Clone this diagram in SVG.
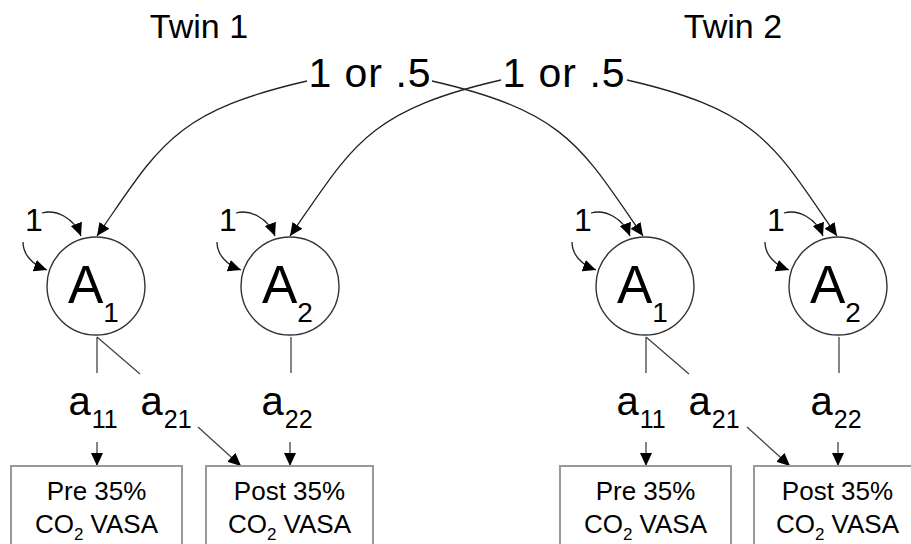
<svg xmlns="http://www.w3.org/2000/svg" width="911" height="544" viewBox="0 0 911 544">
<style>
text{font-family:"Liberation Sans",Arial,sans-serif;fill:#000}
.lat{fill:#fff;stroke:#333;stroke-width:1.4}
.box{fill:#fff;stroke:#999;stroke-width:2}
.big{font-size:53px}
.sub{font-size:28px}
.lbl{font-size:40px}
.ls{font-size:25px}
.bt{font-size:26px;text-anchor:middle}
.cv{fill:none;stroke:#222;stroke-width:1.3}
.ln{fill:none;stroke:#444;stroke-width:1.3}
.arr{marker-end:url(#ah)}
</style>
<defs>
<marker id="ah" markerUnits="userSpaceOnUse" markerWidth="13" markerHeight="12" refX="13" refY="6" orient="auto">
<path d="M0,0 L13,6 L0,12 z" fill="#000"/>
</marker>
</defs>
<rect width="911" height="544" fill="#fff"/>
<g id="titles">
<text x="199" y="38" font-size="34" text-anchor="middle">Twin 1</text>
<text x="733" y="38" font-size="34" text-anchor="middle">Twin 2</text>
<text x="370" y="87" font-size="41" letter-spacing="1" text-anchor="middle">1 or .5</text>
<text x="564" y="87" font-size="41" letter-spacing="1" text-anchor="middle">1 or .5</text>
</g>
<g id="connectors">
<path class="cv arr" d="M307,81 C172,112 159,147 97,236"/>
<path class="cv arr" d="M432,81 C567,112 581,147 643,236"/>
<path class="cv arr" d="M501,80 C366,111 352,147 290,236"/>
<path class="cv arr" d="M627,80 C762,111 775,147 837,236"/>
<path class="cv arr" d="M42,213 C56,209 74,218 81,236"/>
<path class="cv arr" d="M23,242 C23,255 33,265 47,270"/>
<path class="cv arr" d="M236,213 C250,209 268,218 275,236"/>
<path class="cv arr" d="M217,242 C217,255 227,265 241,270"/>
<path class="cv arr" d="M591,213 C605,209 623,218 630,236"/>
<path class="cv arr" d="M572,242 C572,255 582,265 596,270"/>
<path class="cv arr" d="M784,213 C798,209 816,218 823,236"/>
<path class="cv arr" d="M765,242 C765,255 775,265 789,270"/>
<path class="ln" d="M97,337 L97,373 M97,337 L140,374"/>
<path class="ln" d="M291,337 L291,373"/>
<path class="ln" d="M646,337 L646,373 M646,337 L689,374"/>
<path class="ln" d="M839,337 L839,373"/>
<path class="ln arr" d="M97,442 L97,466"/>
<path class="ln arr" d="M198,427 L241,466"/>
<path class="ln arr" d="M290,442 L290,466"/>
<path class="ln arr" d="M646,442 L646,466"/>
<path class="ln arr" d="M747,427 L790,466"/>
<path class="ln arr" d="M838,442 L838,466"/>
</g>
<g id="var-labels">
<text x="25" y="231" font-size="32">1</text>
<text x="219" y="231" font-size="32">1</text>
<text x="574" y="231" font-size="32">1</text>
<text x="767" y="231" font-size="32">1</text>
</g>
<g id="t1-A1"><circle class="lat" cx="96" cy="286" r="49"/><text class="big" x="68" y="303">A<tspan class="sub" dy="19">1</tspan></text></g>
<g id="t1-A2"><circle class="lat" cx="290" cy="286" r="49"/><text class="big" x="262" y="303">A<tspan class="sub" dy="19">2</tspan></text></g>
<g id="t2-A1"><circle class="lat" cx="645" cy="286" r="49"/><text class="big" x="617" y="303">A<tspan class="sub" dy="19">1</tspan></text></g>
<g id="t2-A2"><circle class="lat" cx="838" cy="286" r="49"/><text class="big" x="810" y="303">A<tspan class="sub" dy="19">2</tspan></text></g>
<g id="path-labels">
<text class="lbl" x="68.5" y="415">a<tspan class="ls" dx="1" dy="13">11</tspan></text>
<text class="lbl" x="140.5" y="415">a<tspan class="ls" dx="1" dy="13">21</tspan></text>
<text class="lbl" x="261.5" y="415">a<tspan class="ls" dx="1" dy="13">22</tspan></text>
<text class="lbl" x="616.5" y="415">a<tspan class="ls" dx="1" dy="13">11</tspan></text>
<text class="lbl" x="688.5" y="415">a<tspan class="ls" dx="1" dy="13">21</tspan></text>
<text class="lbl" x="810.5" y="415">a<tspan class="ls" dx="1" dy="13">22</tspan></text>
</g>
<g id="t1-pre"><rect class="box" x="11" y="466" width="171" height="100"/><text class="bt" x="96.5" y="500">Pre 35%</text><text class="bt" x="96.5" y="533">CO<tspan font-size="17" dy="7">2</tspan><tspan dy="-7"> VASA</tspan></text></g>
<g id="t1-post"><rect class="box" x="206" y="466" width="167" height="100"/><text class="bt" x="289.5" y="500">Post 35%</text><text class="bt" x="289.5" y="533">CO<tspan font-size="17" dy="7">2</tspan><tspan dy="-7"> VASA</tspan></text></g>
<g id="t2-pre"><rect class="box" x="560" y="466" width="171" height="100"/><text class="bt" x="645.5" y="500">Pre 35%</text><text class="bt" x="645.5" y="533">CO<tspan font-size="17" dy="7">2</tspan><tspan dy="-7"> VASA</tspan></text></g>
<g id="t2-post"><rect class="box" x="754" y="466" width="167" height="100"/><text class="bt" x="837.5" y="500">Post 35%</text><text class="bt" x="837.5" y="533">CO<tspan font-size="17" dy="7">2</tspan><tspan dy="-7"> VASA</tspan></text></g>
</svg>
